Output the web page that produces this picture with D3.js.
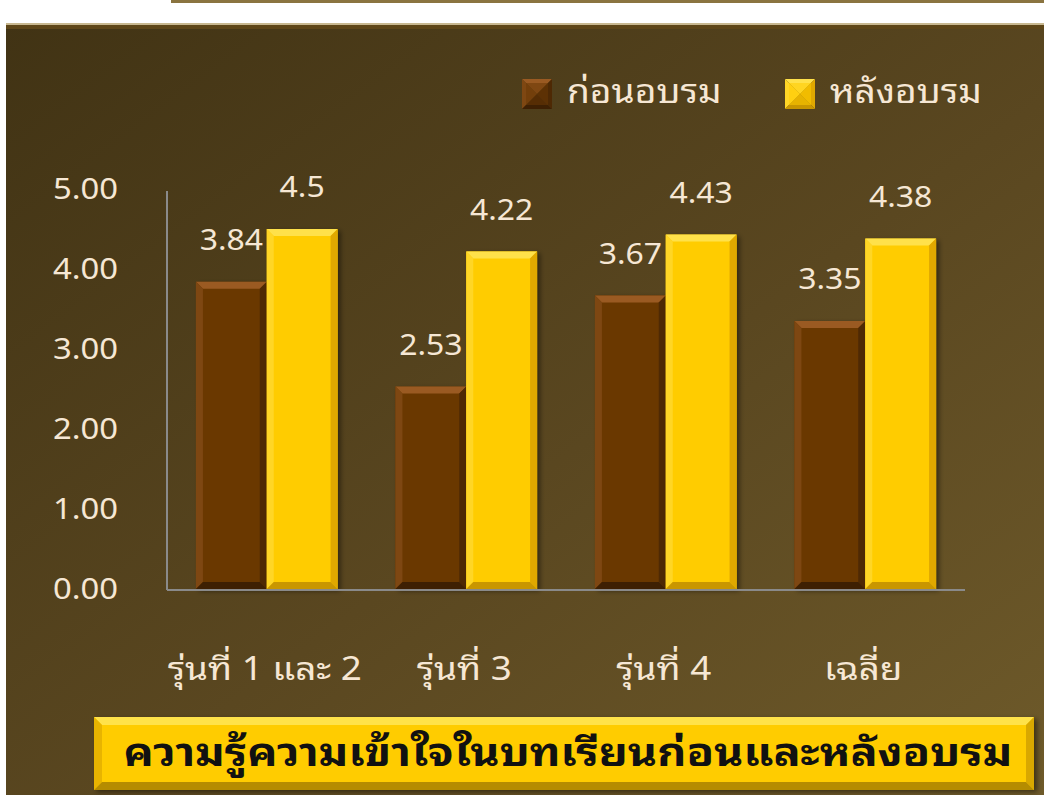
<!DOCTYPE html>
<html><head><meta charset="utf-8">
<script src="https://cdn.jsdelivr.net/npm/d3@7"></script>
<style>
html,body{margin:0;padding:0;background:#fff;}
svg{display:block;}
text{font-family:"Noto Sans Thai Looped","Noto Sans Thai","Noto Sans","DejaVu Sans",sans-serif;}
</style></head>
<body>
<svg id="c" width="1044" height="795"></svg>
<script>
const categories = ["รุ่นที่ 1 และ 2", "รุ่นที่ 3", "รุ่นที่ 4", "เฉลี่ย"];
const seriesNames = ["ก่อนอบรม", "หลังอบรม"];
const beforeValues = [3.84, 2.53, 3.67, 3.35];
const afterValues = [4.5, 4.22, 4.43, 4.38];
const valueLabels = [["3.84", "2.53", "3.67", "3.35"], ["4.5", "4.22", "4.43", "4.38"]];
const yTicks = [0, 1, 2, 3, 4, 5];
const titleText = "ความรู้ความเข้าใจในบทเรียนก่อนและหลังอบรม";

// widen glyphs horizontally to mimic the wider original typeface
function stretch(sel, f){ sel.each(function(){ const L = this.getComputedTextLength(); d3.select(this).attr("textLength", L*f).attr("lengthAdjust","spacingAndGlyphs"); }); }

const svg = d3.select("#c");
const defs = svg.append("defs");
const bg = defs.append("linearGradient").attr("id","bg").attr("x1","0").attr("y1","0").attr("x2","1").attr("y2","1");
bg.append("stop").attr("offset","0%").attr("stop-color","#413314");
bg.append("stop").attr("offset","55%").attr("stop-color","#5a4720");
bg.append("stop").attr("offset","100%").attr("stop-color","#6e5a2a");
const sh = defs.append("filter").attr("id","sh").attr("x","-20%").attr("y","-20%").attr("width","150%").attr("height","150%");
sh.append("feDropShadow").attr("dx",3).attr("dy",2).attr("stdDeviation",2.5).attr("flood-color","#000").attr("flood-opacity",0.45);

svg.append("rect").attr("x",171).attr("y",0).attr("width",873).attr("height",3).attr("fill","#8a7440");
svg.append("rect").attr("x",6).attr("y",23).attr("width",1038).attr("height",772).attr("fill","url(#bg)");
svg.append("rect").attr("x",6).attr("y",23).attr("width",1038).attr("height",2).attr("fill","#c8b890");
svg.append("rect").attr("x",6).attr("y",25).attr("width",1038).attr("height",4).attr("fill","#5e4618");

const pLeft = 167, pRight = 965, pTop = 189, pBottom = 589;
const x0 = d3.scaleBand().domain(categories).range([pLeft, pRight]).paddingInner(0.29).paddingOuter(0.145);
const x1 = d3.scaleBand().domain([0,1]).range([0, x0.bandwidth()]);
const y = d3.scaleLinear().domain([0,5]).range([pBottom, pTop]);

const textCol = "#f6e7d4";
const yl = svg.append("g").selectAll("text").data(yTicks).join("text")
  .attr("x", 118).attr("y", d => y(d)).attr("dy","0.36em").attr("text-anchor","end")
  .attr("fill", textCol).attr("font-size", 29).text(d => d.toFixed(2));
stretch(yl, 1.13);

const palettes = [
  {base:"#6a3906", top:"#9a5a22", left:"#7e4712", right:"#4e2904", bottom:"#3e2003"},
  {base:"#ffcc00", top:"#ffe14a", left:"#ffd626", right:"#e0a800", bottom:"#c99600"}
];
const data = [];
categories.forEach((c,i)=>{
  [beforeValues[i], afterValues[i]].forEach((v,s)=>data.push({c, s, v, lab: valueLabels[s][i]}));
});
const bevel = 7;
const gBars = svg.append("g");
data.forEach(d=>{
  const bx = x0(d.c) + x1(d.s), bw = x1.bandwidth(), by = y(d.v), bh = y(0) - y(d.v);
  const p = palettes[d.s];
  const g = gBars.append("g");
  g.append("rect").attr("x",bx).attr("y",by).attr("width",bw).attr("height",bh).attr("fill",p.base).attr("filter","url(#sh)");
  const b = Math.min(bevel, bh/2);
  const poly = (pts, col) => g.append("polygon").attr("points", pts.map(q=>q.join(",")).join(" ")).attr("fill", col);
  poly([[bx,by],[bx+bw,by],[bx+bw-b,by+b],[bx+b,by+b]], p.top);
  poly([[bx,by],[bx+b,by+b],[bx+b,by+bh-b],[bx,by+bh]], p.left);
  poly([[bx+bw,by],[bx+bw,by+bh],[bx+bw-b,by+bh-b],[bx+bw-b,by+b]], p.right);
  poly([[bx,by+bh],[bx+b,by+bh-b],[bx+bw-b,by+bh-b],[bx+bw,by+bh]], p.bottom);
});
const vl = svg.append("g").selectAll("text").data(data).join("text")
  .attr("x", d => x0(d.c) + x1(d.s) + x1.bandwidth()/2)
  .attr("y", d => y(d.v) - 42).attr("dy","0.36em").attr("text-anchor","middle")
  .attr("fill", textCol).attr("font-size", 29).text(d => d.lab);
stretch(vl, 1.1);

svg.append("line").attr("x1",pLeft).attr("x2",pLeft).attr("y1",191).attr("y2",pBottom+1).attr("stroke","#8a8a8a").attr("stroke-width",2);
svg.append("line").attr("x1",pLeft).attr("x2",pRight).attr("y1",pBottom+1).attr("y2",pBottom+1).attr("stroke","#8a8a8a").attr("stroke-width",2);

const xl = svg.append("g").selectAll("text").data(categories).join("text")
  .attr("x", d => x0(d) + x0.bandwidth()/2 - 2).attr("y", 680).attr("text-anchor","middle")
  .attr("fill", textCol).attr("font-size", 32).text(d => d);
stretch(xl, 1.15);

const legX = [522, 785];
seriesNames.forEach((n,i)=>{
  const p = palettes[i], lx = legX[i], ly = 79, s = 30, c = s/2;
  const g = svg.append("g");
  const poly = (pts, col) => g.append("polygon").attr("points", pts.map(q=>q.join(",")).join(" ")).attr("fill", col);
  poly([[lx,ly],[lx+s,ly],[lx+c,ly+c]], p.top);
  poly([[lx,ly],[lx+c,ly+c],[lx,ly+s]], p.left);
  poly([[lx+s,ly],[lx+s,ly+s],[lx+c,ly+c]], p.right);
  poly([[lx,ly+s],[lx+c,ly+c],[lx+s,ly+s]], p.bottom);
  g.append("rect").attr("x",lx+4).attr("y",ly+4).attr("width",s-8).attr("height",s-8).attr("fill",p.base).attr("opacity",0.55);
  const t = svg.append("text").attr("x", lx+45).attr("y", 103).attr("fill", textCol).attr("font-size", 33).text(n);
  stretch(t, 1.125);
});

const tb = {x:94, y:717, w:940, h:73};
svg.append("rect").attr("x",tb.x).attr("y",tb.y).attr("width",tb.w).attr("height",tb.h).attr("fill","#ffcc00").attr("filter","url(#sh)");
const tg = svg.append("g");
const tpoly = (pts, col) => tg.append("polygon").attr("points", pts.map(q=>q.join(",")).join(" ")).attr("fill", col);
const tbv = 8;
tpoly([[tb.x,tb.y],[tb.x+tb.w,tb.y],[tb.x+tb.w-tbv,tb.y+tbv],[tb.x+tbv,tb.y+tbv]], "#ffe24a");
tpoly([[tb.x,tb.y],[tb.x+tbv,tb.y+tbv],[tb.x+tbv,tb.y+tb.h-tbv],[tb.x,tb.y+tb.h]], "#e8b400");
tpoly([[tb.x+tb.w,tb.y],[tb.x+tb.w,tb.y+tb.h],[tb.x+tb.w-tbv,tb.y+tb.h-tbv],[tb.x+tb.w-tbv,tb.y+tbv]], "#d9a800");
tpoly([[tb.x,tb.y+tb.h],[tb.x+tbv,tb.y+tb.h-tbv],[tb.x+tb.w-tbv,tb.y+tb.h-tbv],[tb.x+tb.w,tb.y+tb.h]], "#b58c00");
const tt = svg.append("text").attr("x", tb.x + tb.w/2 + 4).attr("y", 766).attr("text-anchor","middle")
  .attr("fill","#111").attr("font-size", 38).attr("font-weight","bold").text(titleText);
stretch(tt, 1.183);
</script>
</body></html>
